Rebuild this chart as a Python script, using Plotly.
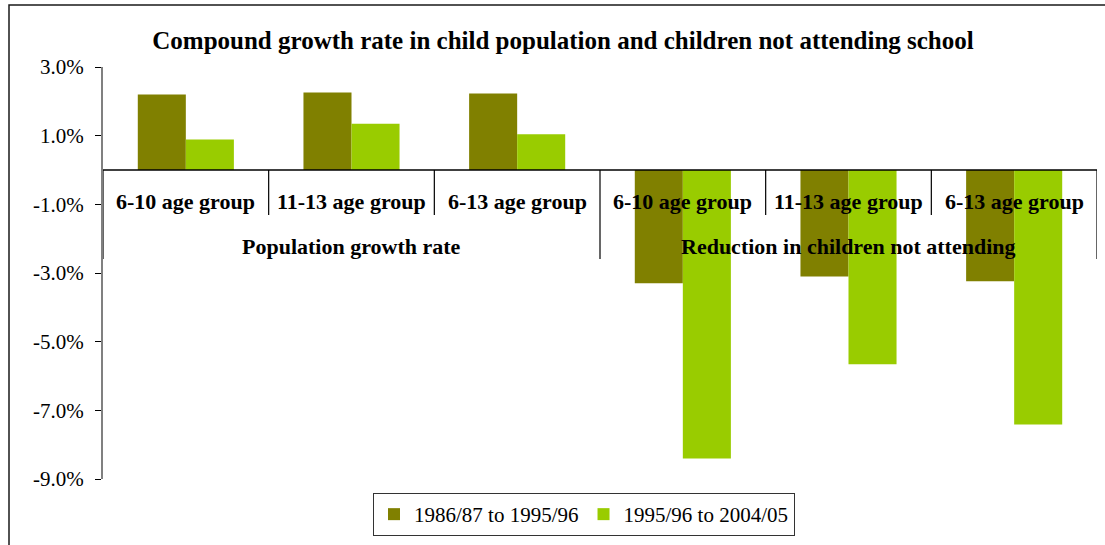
import plotly.graph_objects as go

# Sub-category labels and their parent groups
sub_labels = ["6-10 age group", "11-13 age group", "6-13 age group",
              "6-10 age group", "11-13 age group", "6-13 age group"]
group_labels = ["Population growth rate", "Reduction in children not attending"]

series_names = ["1986/87 to 1995/96", "1995/96 to 2004/05"]
period1 = [2.20, 2.26, 2.23, -3.30, -3.10, -3.24]   # %
period2 = [0.89, 1.35, 1.04, -8.40, -5.66, -7.41]   # %

tick_vals = [3, 1, -1, -3, -5, -7, -9]
tick_text = ["3.0%", "1.0%", "-1.0%", "-3.0%", "-5.0%", "-7.0%", "-9.0%"]

OLIVE = "#808000"
LIME = "#99CC00"
FONT = "Liberation Serif"

W, H = 1105, 545
ML, MR, MT, MB = 103, 8, 67, 66
Y_MIN, Y_MAX = -9, 3
px_per_unit = (H - MT - MB) / (Y_MAX - Y_MIN)

x = list(range(len(sub_labels)))

fig = go.Figure()
fig.add_trace(go.Bar(x=x, y=period1, name=series_names[0], marker=dict(color=OLIVE, line=dict(width=0))))
fig.add_trace(go.Bar(x=x, y=period2, name=series_names[1], marker=dict(color=LIME, line=dict(width=0))))

shapes = []
# category axis at zero
shapes.append(dict(type="line", xref="x", yref="y", x0=-0.5, x1=len(x) - 0.5, y0=0, y1=0,
                   line=dict(color="#000000", width=1.5)))
# separators hanging below the zero line
for b in range(len(x) + 1):
    xb = b - 0.5
    if b % 3 == 0:
        depth = 89 / px_per_unit
    else:
        depth = 45 / px_per_unit
    shapes.append(dict(type="line", xref="x", yref="y", x0=xb, x1=xb, y0=0, y1=-depth,
                       line=dict(color="#000000", width=1.2)))
# outer chart frame
shapes.append(dict(type="rect", xref="paper", yref="paper",
                   x0=(9 - ML) / (W - ML - MR), x1=1.05,
                   y0=-0.2, y1=(H - MB - 5) / (H - MT - MB),
                   line=dict(color="#1a1a1a", width=1.5), fillcolor="rgba(0,0,0,0)", layer="below"))

annotations = []
for i, lab in enumerate(sub_labels):
    annotations.append(dict(x=i, y=0, xref="x", yref="y", text=f"<b>{lab}</b>", showarrow=False,
                            yshift=-31, xanchor="center", yanchor="middle",
                            font=dict(family=FONT, size=22, color="#000000")))
for g, lab in enumerate(group_labels):
    annotations.append(dict(x=1 + 3 * g, y=0, xref="x", yref="y", text=f"<b>{lab}</b>", showarrow=False,
                            yshift=-76, xanchor="center", yanchor="middle",
                            font=dict(family=FONT, size=22, color="#000000")))

fig.update_layout(
    width=W, height=H,
    margin=dict(l=ML, r=MR, t=MT, b=MB),
    paper_bgcolor="white", plot_bgcolor="white",
    barmode="group", bargap=0.42, bargroupgap=0,
    title=dict(text="<b>Compound growth rate in child population and children not attending school</b>",
               x=563 / W, xref="container", xanchor="center",
               y=1 - 40 / H, yref="container", yanchor="middle",
               font=dict(family=FONT, size=25, color="#000000")),
    xaxis=dict(range=[-0.5, len(x) - 0.5], showticklabels=False, showgrid=False,
               zeroline=False, showline=False, ticks=""),
    yaxis=dict(range=[Y_MIN, Y_MAX], tickvals=tick_vals, ticktext=tick_text,
               showgrid=False, zeroline=False, showline=True, linecolor="#808080", linewidth=2,
               ticks="outside", ticklen=6, tickcolor="#000000", tickwidth=1,
               ticklabelstandoff=7,
               tickfont=dict(family=FONT, size=21, color="#000000")),
    legend=dict(orientation="h", x=(584 - ML) / (W - ML - MR), xanchor="center",
                y=(H - MB - 514.5) / (H - MT - MB), yanchor="middle",
                bordercolor="#333333", borderwidth=1, bgcolor="white",
                font=dict(family=FONT, size=21, color="#000000"),
                itemclick=False, traceorder="normal", itemwidth=30, tracegroupgap=0),
    shapes=shapes,
    annotations=annotations,
    showlegend=True,
)

fig.write_html("out.html")
